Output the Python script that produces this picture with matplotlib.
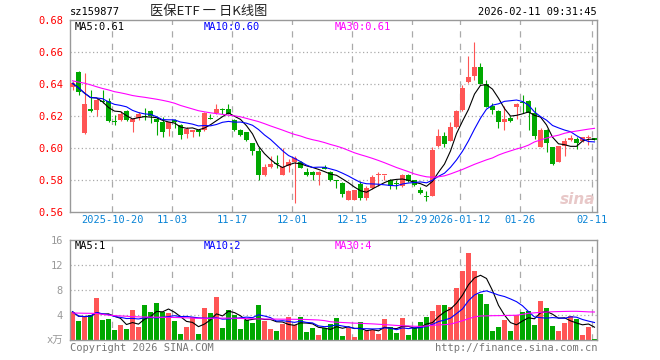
import matplotlib
matplotlib.use("Agg")
import matplotlib.pyplot as plt
import numpy as np
import pandas as pd

plt.rcParams['font.family'] = ['DejaVu Sans Mono', 'Noto Sans CJK SC']

# daily candles, 2025-10-09 .. 2026-02-11 (88 trading days)
opens = [0.6380, 0.6477, 0.6094, 0.6246, 0.6235, 0.6296, 0.6296, 0.6167, 0.6177, 0.6233,
         0.6165, 0.6185, 0.6196, 0.6231, 0.6181, 0.6160, 0.6119, 0.6177, 0.6142, 0.6085,
         0.6100, 0.6110, 0.6110, 0.6185, 0.6219, 0.6246, 0.6246, 0.6177, 0.6110, 0.6098,
         0.6031, 0.5983, 0.5833, 0.5881, 0.5906, 0.5833, 0.5885, 0.5915, 0.5915, 0.5852,
         0.5852, 0.5830, 0.5883, 0.5850, 0.5800, 0.5781, 0.5677, 0.5677, 0.5777, 0.5685,
         0.5748, 0.5829, 0.5830, 0.5802, 0.5778, 0.5760, 0.5830, 0.5800, 0.5735, 0.5696,
         0.5702, 0.6015, 0.6077, 0.6046, 0.6131, 0.6240, 0.6413, 0.6452, 0.6504, 0.6400,
         0.6265, 0.6233, 0.6160, 0.6185, 0.6256, 0.6287, 0.6296, 0.6219, 0.6006, 0.6115,
         0.6006, 0.5913, 0.6010, 0.6050, 0.6058, 0.6046, 0.6061, 0.6063]
highs = [0.6420, 0.6480, 0.6469, 0.6365, 0.6310, 0.6365, 0.6313, 0.6208, 0.6233, 0.6235,
         0.6190, 0.6223, 0.6252, 0.6240, 0.6194, 0.6194, 0.6165, 0.6180, 0.6152, 0.6131,
         0.6115, 0.6112, 0.6227, 0.6215, 0.6277, 0.6248, 0.6277, 0.6180, 0.6119, 0.6102,
         0.6033, 0.6005, 0.5902, 0.5948, 0.5958, 0.6000, 0.5931, 0.5948, 0.5919, 0.5875,
         0.5854, 0.5854, 0.5892, 0.5858, 0.5802, 0.5790, 0.5735, 0.5737, 0.5792, 0.5760,
         0.5829, 0.5850, 0.5833, 0.5804, 0.5802, 0.5835, 0.5835, 0.5802, 0.5756, 0.5729,
         0.6006, 0.6119, 0.6098, 0.6163, 0.6240, 0.6396, 0.6577, 0.6660, 0.6531, 0.6427,
         0.6281, 0.6235, 0.6260, 0.6202, 0.6279, 0.6331, 0.6302, 0.6256, 0.6123, 0.6117,
         0.6008, 0.6015, 0.6063, 0.6081, 0.6067, 0.6071, 0.6083, 0.6065]
lows = [0.6360, 0.6333, 0.6090, 0.6223, 0.6202, 0.6280, 0.6160, 0.6144, 0.6171, 0.6171,
        0.6102, 0.6177, 0.6177, 0.6156, 0.6079, 0.6071, 0.6077, 0.6125, 0.6056, 0.6060,
        0.6071, 0.6073, 0.6104, 0.6179, 0.6215, 0.6215, 0.6212, 0.6104, 0.6077, 0.6042,
        0.5954, 0.5798, 0.5827, 0.5875, 0.5875, 0.5833, 0.5848, 0.5656, 0.5877, 0.5827,
        0.5798, 0.5771, 0.5867, 0.5792, 0.5748, 0.5694, 0.5673, 0.5673, 0.5673, 0.5673,
        0.5746, 0.5765, 0.5802, 0.5744, 0.5744, 0.5754, 0.5785, 0.5765, 0.5715, 0.5667,
        0.5698, 0.6006, 0.6006, 0.6042, 0.6123, 0.6231, 0.6406, 0.6427, 0.6400, 0.6254,
        0.6215, 0.6123, 0.6110, 0.6165, 0.6181, 0.6219, 0.6110, 0.6056, 0.6004, 0.5973,
        0.5896, 0.5910, 0.5952, 0.6046, 0.5996, 0.6040, 0.6017, 0.6048]
closes = [0.6404, 0.6348, 0.6277, 0.6233, 0.6302, 0.6285, 0.6170, 0.6163, 0.6215, 0.6177,
          0.6183, 0.6210, 0.6194, 0.6202, 0.6160, 0.6098, 0.6160, 0.6160, 0.6079, 0.6119,
          0.6110, 0.6098, 0.6219, 0.6181, 0.6246, 0.6235, 0.6215, 0.6115, 0.6083, 0.6048,
          0.5980, 0.5833, 0.5879, 0.5902, 0.5898, 0.5879, 0.5913, 0.5940, 0.5877, 0.5833,
          0.5830, 0.5852, 0.5870, 0.5800, 0.5796, 0.5715, 0.5733, 0.5735, 0.5685, 0.5750,
          0.5819, 0.5833, 0.5832, 0.5760, 0.5775, 0.5830, 0.5792, 0.5769, 0.5720, 0.5692,
          0.5985, 0.6077, 0.6025, 0.6129, 0.6233, 0.6375, 0.6444, 0.6504, 0.6402, 0.6254,
          0.6235, 0.6160, 0.6181, 0.6167, 0.6277, 0.6283, 0.6219, 0.6073, 0.6115, 0.6031,
          0.5902, 0.6010, 0.6046, 0.6063, 0.6031, 0.6067, 0.6065, 0.6050]
ma30_price = [0.6420, 0.6412, 0.6405, 0.6395, 0.6383, 0.6372, 0.6363, 0.6352, 0.6345, 0.6337,
              0.6328, 0.6322, 0.6317, 0.6311, 0.6305, 0.6298, 0.6290, 0.6280, 0.6266, 0.6255,
              0.6244, 0.6233, 0.6226, 0.6220, 0.6215, 0.6210, 0.6205, 0.6201, 0.6195, 0.6185,
              0.6175, 0.6165, 0.6152, 0.6138, 0.6125, 0.6112, 0.6098, 0.6085, 0.6075, 0.6062,
              0.6052, 0.6044, 0.6034, 0.6022, 0.6012, 0.6000, 0.5985, 0.5970, 0.5958, 0.5947,
              0.5935, 0.5922, 0.5908, 0.5893, 0.5878, 0.5865, 0.5852, 0.5838, 0.5828, 0.5820,
              0.5817, 0.5820, 0.5826, 0.5838, 0.5852, 0.5866, 0.5882, 0.5898, 0.5912, 0.5926,
              0.5938, 0.5956, 0.5970, 0.5982, 0.5994, 0.6004, 0.6018, 0.6038, 0.6050, 0.6062,
              0.6072, 0.6080, 0.6092, 0.6100, 0.6106, 0.6112, 0.6118, 0.6123]

volumes = [4.53, 3.09, 3.63, 4.00, 6.72, 3.20, 3.36, 1.65, 2.40, 1.76,
           4.80, 2.08, 5.60, 4.48, 5.92, 4.43, 4.37, 3.04, 0.96, 2.08,
           3.63, 0.96, 5.12, 4.32, 6.88, 1.97, 4.80, 3.95, 1.76, 3.25,
           2.72, 5.60, 3.09, 1.76, 1.44, 2.50, 3.63, 2.45, 3.68, 1.28,
           1.92, 0.80, 1.87, 2.56, 3.52, 0.64, 1.97, 0.48, 2.88, 1.44,
           1.55, 0.96, 3.36, 2.08, 1.12, 3.52, 0.80, 1.92, 2.88, 3.68,
           4.64, 5.60, 5.60, 5.28, 8.32, 11.09, 13.92, 11.04, 7.41, 5.76,
           1.44, 2.08, 3.20, 1.44, 4.00, 4.48, 4.64, 2.40, 6.24, 5.12,
           2.24, 1.44, 2.72, 3.84, 3.36, 0.80, 2.08, 0.16]
ma30_vol = [4.32, 4.30, 4.28, 4.27, 4.25, 4.10, 3.98, 3.90, 3.85, 3.80,
            3.74, 3.70, 3.68, 3.66, 3.65, 3.63, 3.62, 3.60, 3.58, 3.55,
            3.50, 3.47, 3.47, 3.48, 3.49, 3.50, 3.50, 3.48, 3.45, 3.42,
            3.40, 3.38, 3.36, 3.35, 3.34, 3.33, 3.32, 3.31, 3.30, 3.28,
            3.24, 3.20, 3.10, 2.92, 2.85, 2.80, 2.75, 2.70, 2.67, 2.62,
            2.58, 2.52, 2.46, 2.40, 2.33, 2.28, 2.24, 2.20, 2.18, 2.25,
            2.35, 2.42, 2.45, 2.55, 2.80, 3.09, 3.40, 3.70, 3.84, 3.86,
            3.89, 3.90, 3.92, 3.94, 3.96, 4.10, 4.27, 4.35, 4.42, 4.48,
            4.52, 4.55, 4.57, 4.59, 4.59, 4.55, 4.50, 4.48]

tick_idx = [7, 17, 27, 37, 47, 57, 65, 75, 87]
tick_labels = ['2025-10-20', '11-03', '11-17', '12-01', '12-15', '12-29',
               '2026-01-12', '01-26', '02-11']
price_ticks = [0.56, 0.58, 0.60, 0.62, 0.64, 0.66, 0.68]
vol_ticks = [0, 4, 8, 12, 16]
vol_tick_labels = ['x万', '4', '8', '12', '16']
price_legend = ['MA5:0.61', 'MA10:0.60', 'MA30:0.61']
vol_legend = ['MA5:1', 'MA10:2', 'MA30:4']

RED = '#ff5555'
GREEN = '#00a800'
GRID = '#aaaaaa'
W, H = 660, 360

df = pd.DataFrame({'o': opens, 'h': highs, 'l': lows, 'c': closes, 'v': volumes})
x = np.arange(len(df))
up = df['c'] >= df['o']
colors = np.where(up, RED, GREEN)
ma5 = df['c'].rolling(5, min_periods=1).mean()
ma10 = df['c'].rolling(10, min_periods=1).mean()
vma5 = df['v'].rolling(5, min_periods=1).mean()
vma10 = df['v'].rolling(10, min_periods=1).mean()


def px(xp, yp):
    return xp / W, 1 - yp / H


fig = plt.figure(figsize=(6.6, 3.6), dpi=100)
ax = fig.add_axes([70 / W, 1 - 212 / H, 527 / W, 192 / H])
axv = fig.add_axes([70 / W, 1 - 340 / H, 527 / W, 100 / H])

xl = (-5 / 12, len(df) - 1 + 5 / 12)
grid_x = [i - 5 / 12 for i in tick_idx]

for a in (ax, axv):
    a.set_xlim(*xl)
    for s in a.spines.values():
        s.set_color('#999999')
        s.set_linewidth(1)
    for gx in grid_x:
        a.axvline(gx, color=GRID, lw=0.9, ls=(0, (5, 5)), zorder=0)
    a.tick_params(length=0)

# price panel
ax.set_ylim(0.56, 0.68)
for gy in price_ticks[1:-1]:
    ax.axhline(gy, color=GRID, lw=0.9, ls=(0, (1, 2)), zorder=0)
ax.vlines(x, df['l'], df['h'], colors=colors, lw=0.8, zorder=2)
body_lo = np.minimum(df['o'], df['c'])
body_h = np.maximum(np.abs(df['c'] - df['o']), 0.0007)
ax.bar(x, body_h, bottom=body_lo, width=5 / 6, color=colors, lw=0, zorder=3)
ax.plot(x, ma5, color='black', lw=0.8, zorder=4)
ax.plot(x, ma10, color='#0000ff', lw=0.8, zorder=4)
ax.plot(x, ma30_price, color='#ff00ff', lw=0.8, zorder=4)
ax.set_yticks(price_ticks)
ax.set_yticklabels(['%.2f' % t for t in price_ticks], color='#ff0000', fontsize=7.5)
ax.tick_params(axis='y', pad=5)
ax.set_xticks(grid_x)
ax.set_xticklabels(tick_labels, color='#0a84d6', fontsize=7.5)
ax.tick_params(axis='x', pad=2)

# volume panel
axv.set_ylim(0, 16)
for gy in vol_ticks[1:-1]:
    axv.axhline(gy, color=GRID, lw=0.9, ls=(0, (1, 2)), zorder=0)
axv.bar(x, df['v'], width=5 / 6, color=colors, lw=0, zorder=2)
axv.plot(x, vma5, color='black', lw=0.8, zorder=4)
axv.plot(x, vma10, color='#0000ff', lw=0.8, zorder=4)
axv.plot(x, ma30_vol, color='#ff00ff', lw=0.8, zorder=4)
axv.set_yticks(vol_ticks)
axv.set_yticklabels(vol_tick_labels, color='#999999', fontsize=7.5)
axv.tick_params(axis='y', pad=5)
axv.set_xticks([])

# in-panel legends
for lbl, xp, col in zip(price_legend, [75, 204, 335], ['black', '#0000ff', '#ff00ff']):
    fig.text(*px(xp, 27), lbl, color=col, fontsize=7.5, va='center')
for lbl, xp, col in zip(vol_legend, [75, 204, 335], ['black', '#0000ff', '#ff00ff']):
    fig.text(*px(xp, 246), lbl, color=col, fontsize=7.5, va='center')

# header / footer
fig.text(*px(70, 12), 'sz159877', fontsize=7.5, va='center')
fig.text(*px(209, 12), '医保ETF 一 日K线图', fontsize=9.5, ha='center', va='center',
         family=['Noto Sans CJK SC', 'DejaVu Sans'], color='#222222')
fig.text(*px(597, 12), '2026-02-11 09:31:45', fontsize=7.5, ha='right', va='center')
fig.text(*px(70, 348), 'Copyright 2026 SINA.COM', fontsize=7.5, va='center', color='#777777')
fig.text(*px(597, 348), 'http://finance.sina.com.cn', fontsize=7.5, ha='right',
         va='center', color='#777777')
fig.text(*px(578, 200), 'sina', fontsize=11, ha='center', va='center', color='#e8c8c8',
         style='italic', weight='bold', family='DejaVu Sans')

fig.savefig('out.png', dpi=100, facecolor='white')
